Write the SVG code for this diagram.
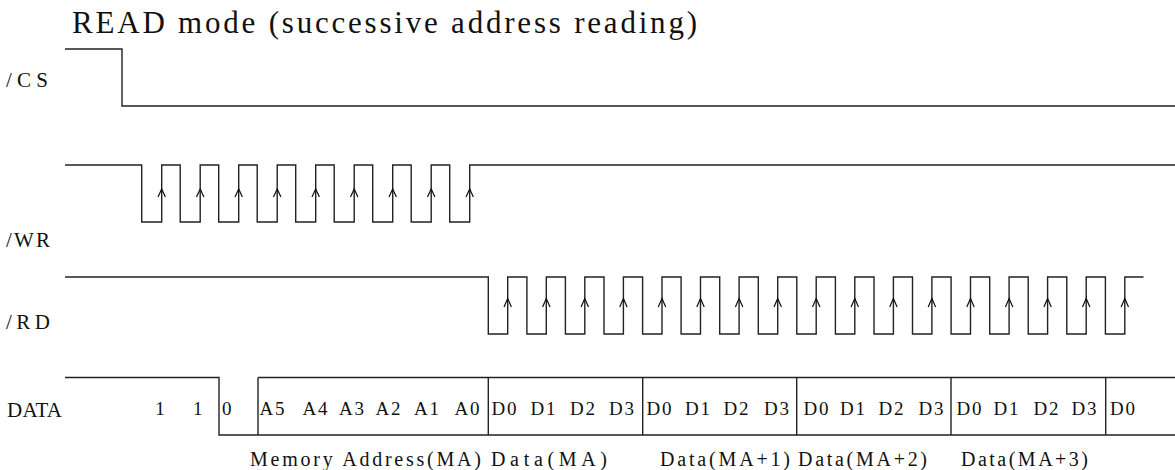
<svg xmlns="http://www.w3.org/2000/svg" width="1175" height="470" viewBox="0 0 1175 470">
<style>
.sig{fill:none;stroke:#222;stroke-width:1.4}
.arr{fill:none;stroke:#111;stroke-width:1.2}
text{font-family:"Liberation Serif","DejaVu Serif",serif;fill:#111}
.t{font-size:31px}
.lb{font-size:21px}
.d{font-size:19px;text-anchor:middle}
.b{font-size:20px}
</style>
<rect width="1175" height="470" fill="#fff"/>
<text class="t" x="72" y="33" textLength="625" lengthAdjust="spacing">READ mode (successive address reading)</text>
<g id="label-cs"><text class="lb" x="6" y="87" textLength="42" lengthAdjust="spacing">/CS</text></g>
<g id="label-wr"><text class="lb" x="6" y="247" textLength="44" lengthAdjust="spacing">/WR</text></g>
<g id="label-rd"><text class="lb" x="6" y="329" textLength="44" lengthAdjust="spacing">/RD</text></g>
<g id="label-data"><text class="lb" x="7" y="417" textLength="55" lengthAdjust="spacing">DATA</text></g>
<g id="connectors">
<g id="cs"><path class="sig" d="M65 49 H122 V106 H1175"/></g>
<g id="wr">
<path class="sig" d="M65 165 H141.7 V222 H161.7 V165 H180.2 V222 H200.2 V165 H218.7 V222 H238.7 V165 H257.2 V222 H277.2 V165 H295.7 V222 H315.7 V165 H334.2 V222 H354.2 V165 H372.7 V222 H392.7 V165 H411.2 V222 H431.2 V165 H449.7 V222 H469.7 V165 H1175"/>
<path class="arr" d="M158 197 L161.7 189 L165.4 197 M196.5 197 L200.2 189 L203.9 197 M235 197 L238.7 189 L242.4 197 M273.5 197 L277.2 189 L280.9 197 M312 197 L315.7 189 L319.4 197 M350.5 197 L354.2 189 L357.9 197 M389 197 L392.7 189 L396.4 197 M427.5 197 L431.2 189 L434.9 197 M466 197 L469.7 189 L473.4 197"/>
</g>
<g id="rd">
<path class="sig" d="M65 277 H488.3 V334 H507.7 V277 H526.9 V334 H546.3 V277 H565.4 V334 H584.8 V277 H604 V334 H623.4 V277 H642.6 V334 H662 V277 H681.1 V334 H700.5 V277 H719.7 V334 H739.1 V277 H758.3 V334 H777.7 V277 H796.8 V334 H816.2 V277 H835.4 V334 H854.8 V277 H874 V334 H893.4 V277 H912.5 V334 H931.9 V277 H951.1 V334 H970.5 V277 H989.7 V334 H1009.1 V277 H1028.2 V334 H1047.6 V277 H1066.8 V334 H1086.2 V277 H1105.4 V334 H1124.8 V277 H1143.5"/>
<path class="arr" d="M504 307 L507.7 298.5 L511.4 307 M542.6 307 L546.3 298.5 L550 307 M581.1 307 L584.8 298.5 L588.5 307 M619.7 307 L623.4 298.5 L627.1 307 M658.3 307 L662 298.5 L665.7 307 M696.8 307 L700.5 298.5 L704.2 307 M735.4 307 L739.1 298.5 L742.8 307 M774 307 L777.7 298.5 L781.4 307 M812.5 307 L816.2 298.5 L819.9 307 M851.1 307 L854.8 298.5 L858.5 307 M889.7 307 L893.4 298.5 L897.1 307 M928.2 307 L931.9 298.5 L935.6 307 M966.8 307 L970.5 298.5 L974.2 307 M1005.4 307 L1009.1 298.5 L1012.8 307 M1043.9 307 L1047.6 298.5 L1051.3 307 M1082.5 307 L1086.2 298.5 L1089.9 307 M1121.1 307 L1124.8 298.5 L1128.5 307"/>
</g>
<g id="data">
<path class="sig" d="M65 377.5 H219 V435 H1175 M258 377.5 H1175 M258 377.5 V435 M488.3 377.5 V435 M642.7 377.5 V435 M796.7 377.5 V435 M951 377.5 V435 M1105.7 377.5 V435"/>
</g>
</g>
<g id="data-bits">
<text class="d" x="160" y="415">1</text>
<text class="d" x="197.7" y="415">1</text>
<text class="d" x="226.7" y="415">0</text>
<text class="d" x="272" y="415" textLength="25" lengthAdjust="spacing">A5</text>
<text class="d" x="315" y="415" textLength="25" lengthAdjust="spacing">A4</text>
<text class="d" x="351.5" y="415" textLength="25" lengthAdjust="spacing">A3</text>
<text class="d" x="388" y="415" textLength="25" lengthAdjust="spacing">A2</text>
<text class="d" x="426.5" y="415" textLength="25" lengthAdjust="spacing">A1</text>
<text class="d" x="467" y="415" textLength="25" lengthAdjust="spacing">A0</text>
<text class="d" x="504" y="415" textLength="25" lengthAdjust="spacing">D0</text>
<text class="d" x="543" y="415" textLength="25" lengthAdjust="spacing">D1</text>
<text class="d" x="582.5" y="415" textLength="25" lengthAdjust="spacing">D2</text>
<text class="d" x="621.5" y="415" textLength="25" lengthAdjust="spacing">D3</text>
<text class="d" x="659" y="415" textLength="25" lengthAdjust="spacing">D0</text>
<text class="d" x="697.5" y="415" textLength="25" lengthAdjust="spacing">D1</text>
<text class="d" x="736" y="415" textLength="25" lengthAdjust="spacing">D2</text>
<text class="d" x="776.5" y="415" textLength="25" lengthAdjust="spacing">D3</text>
<text class="d" x="816" y="415" textLength="25" lengthAdjust="spacing">D0</text>
<text class="d" x="852.5" y="415" textLength="25" lengthAdjust="spacing">D1</text>
<text class="d" x="891" y="415" textLength="25" lengthAdjust="spacing">D2</text>
<text class="d" x="931" y="415" textLength="25" lengthAdjust="spacing">D3</text>
<text class="d" x="969" y="415" textLength="25" lengthAdjust="spacing">D0</text>
<text class="d" x="1006" y="415" textLength="25" lengthAdjust="spacing">D1</text>
<text class="d" x="1046" y="415" textLength="25" lengthAdjust="spacing">D2</text>
<text class="d" x="1084" y="415" textLength="25" lengthAdjust="spacing">D3</text>
<text class="d" x="1122.5" y="415" textLength="25" lengthAdjust="spacing">D0</text>
</g>
<g id="bottom-labels">
<text class="b" x="250" y="466" textLength="231" lengthAdjust="spacing">Memory Address(MA)</text>
<text class="b" x="491" y="466" textLength="116" lengthAdjust="spacing">Data(MA)</text>
<text class="b" x="660" y="466" textLength="130" lengthAdjust="spacing">Data(MA+1)</text>
<text class="b" x="798" y="466" textLength="129" lengthAdjust="spacing">Data(MA+2)</text>
<text class="b" x="961" y="466" textLength="127" lengthAdjust="spacing">Data(MA+3)</text>
</g>
</svg>
